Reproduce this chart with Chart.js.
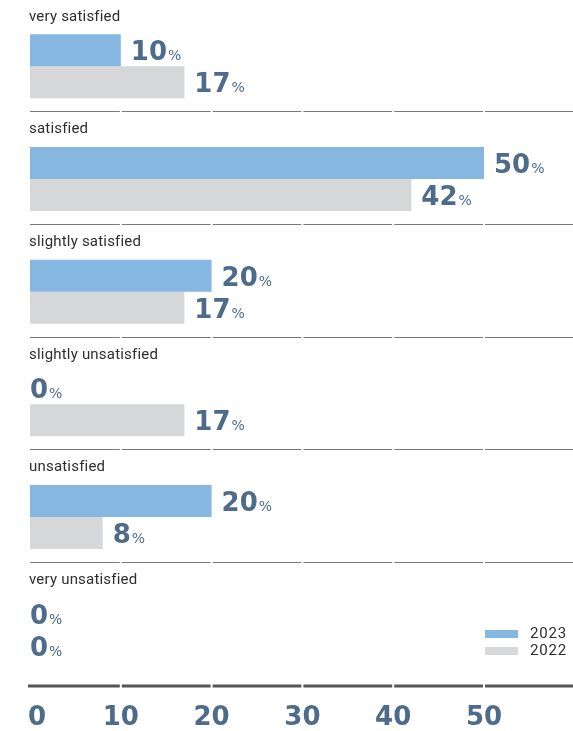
<!DOCTYPE html>
<html>
  <head>
    <title>Satisfaction 2023 vs 2022</title>
    <script src="https://cdn.jsdelivr.net/npm/chart.js"></script>
    <style>
      body {
        margin: 0;
        background: #fff;
      }
      #wrap {
        width: 573px;
        height: 731px;
        position: relative;
      }
    </style>
  </head>
  <body>
    <div id="wrap"><canvas id="satChart"></canvas></div>

    <script>
      let categories = [
        "very satisfied",
        "satisfied",
        "slightly satisfied",
        "slightly unsatisfied",
        "unsatisfied",
        "very unsatisfied",
      ];
      let values2023 = [10, 50, 20, 0, 20, 0];
      let values2022 = [17, 42, 17, 17, 8, 0];
      let xTicks = [0, 10, 20, 30, 40, 50];
      let seriesNames = ["2023", "2022"];

      let blue = "#85b7e1";
      let grey = "#d6d7d9";
      let numColor = "#4d6b8a";
      let numFont = "bold 26px 'DejaVu Sans'";
      let pctFont = "14px 'DejaVu Sans'";

      // line with small white breaks at every tick except 0
      function brokenLine(ctx, y, x0, x1, gaps, width, color) {
        ctx.save();
        ctx.strokeStyle = color;
        ctx.lineWidth = width;
        let start = x0;
        gaps.concat([x1 + 1]).forEach((g) => {
          let end = Math.min(g - 1, x1);
          if (end > start) {
            ctx.beginPath();
            ctx.moveTo(start, y);
            ctx.lineTo(end, y);
            ctx.stroke();
          }
          start = g + 1;
        });
        ctx.restore();
      }

      let decor = {
        id: "decor",
        beforeDatasetsDraw(chart) {
          let { ctx, chartArea, scales } = chart;
          let xs = scales.x,
            ys = scales.y;
          let band = ys.getPixelForValue(1) - ys.getPixelForValue(0);
          let gaps = xTicks.filter((t) => t > 0).map((t) => xs.getPixelForValue(t));
          for (let i = 0; i < categories.length - 1; i++) {
            let y = Math.round(ys.getPixelForValue(i) + 0.4 * band) + 0.5;
            brokenLine(ctx, y, chartArea.left, chartArea.right, gaps, 1.2, "#7a7a7a");
          }
          brokenLine(ctx, chartArea.bottom, chartArea.left - 2, chartArea.right, gaps, 3, "#555");
        },
        afterDatasetsDraw(chart) {
          let { ctx, chartArea, scales } = chart;
          let xs = scales.x,
            ys = scales.y;
          let band = ys.getPixelForValue(1) - ys.getPixelForValue(0);
          ctx.save();

          // category titles above each group
          ctx.font = "15px Roboto";
          ctx.letterSpacing = "0.2px";
          ctx.fillStyle = "#2e2e2e";
          ctx.textBaseline = "middle";
          ctx.textAlign = "left";
          categories.forEach((c, i) => {
            ctx.fillText(c, chartArea.left - 1, ys.getPixelForValue(i) - 0.44 * band);
          });
          ctx.letterSpacing = "0px";

          // value labels at bar ends
          chart.data.datasets.forEach((ds, di) => {
            chart.getDatasetMeta(di).data.forEach((bar, i) => {
              let v = ds.data[i];
              let x = v > 0 ? bar.x + 10 : bar.x;
              let y = bar.y + 10;
              ctx.textBaseline = "alphabetic";
              ctx.fillStyle = numColor;
              ctx.font = numFont;
              let s = String(v);
              ctx.fillText(s, x, y);
              let w = ctx.measureText(s).width;
              ctx.font = pctFont;
              ctx.fillText("%", x + w + 1, y);
            });
          });

          // x axis numbers
          ctx.font = numFont;
          ctx.fillStyle = numColor;
          ctx.textBaseline = "middle";
          xTicks.forEach((t) => {
            let x = xs.getPixelForValue(t);
            ctx.textAlign = t === 0 ? "left" : "center";
            ctx.fillText(String(t), t === 0 ? x - 2 : x, chartArea.bottom + 32);
          });

          // legend
          ctx.font = "15px Roboto";
          ctx.letterSpacing = "0.8px";
          ctx.textAlign = "left";
          chart.data.datasets.forEach((ds, di) => {
            let top = chartArea.bottom - 56 + di * 17;
            ctx.fillStyle = ds.backgroundColor;
            ctx.fillRect(chartArea.right - 88, top, 33, 8);
            ctx.fillStyle = "#2e2e2e";
            ctx.fillText(ds.label, chartArea.right - 43, top + 4);
          });
          ctx.restore();
        },
      };

      let chart = new Chart(document.getElementById("satChart"), {
        type: "bar",
        data: {
          labels: categories,
          datasets: [
            { label: seriesNames[0], data: values2023, backgroundColor: blue },
            { label: seriesNames[1], data: values2022, backgroundColor: grey },
          ],
        },
        options: {
          indexAxis: "y",
          responsive: true,
          maintainAspectRatio: false,
          animation: false,
          barThickness: 32,
          borderWidth: 0,
          inflateAmount: 0,
          layout: { padding: { left: 30, top: 10, right: 0, bottom: 45 } },
          scales: {
            x: { display: false, min: 0, max: 59.8 },
            y: { display: false },
          },
          plugins: {
            legend: { display: false },
            tooltip: { enabled: false },
          },
        },
        plugins: [decor],
      });
    </script>
  </body>
</html>
